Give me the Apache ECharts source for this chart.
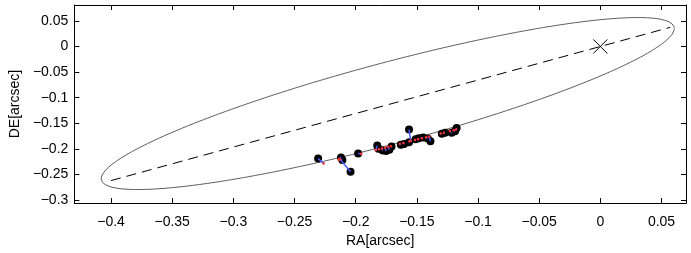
<!DOCTYPE html>
<html>
<head>
<meta charset="utf-8">
<script src="https://cdn.jsdelivr.net/npm/echarts@6/dist/echarts.min.js"></script>
<style>
html,body{margin:0;padding:0;background:#fff;}
#chart{width:691px;height:253px;}
</style>
</head>
<body>
<div id="chart"></div>
<script>
// ---- data ----
const xTicks = [-0.4, -0.35, -0.3, -0.25, -0.2, -0.15, -0.1, -0.05, 0, 0.05];
const yTicks = [-0.3, -0.25, -0.2, -0.15, -0.1, -0.05, 0, 0.05];
const xRange = [-0.43, 0.07];
const yRange = [-0.306, 0.081];

// apparent orbit (ellipse) elements: x = cx + rx cos t, y = cy + ry cos(t - phase)
const orbitCenter = [-0.1738, -0.1115];
const orbitRadii = [0.2342, 0.1680];
const orbitPhase = 0.51;

// dashed line through the primary
const dashedLine = [[-0.4, -0.262], [0.057, 0.0373]];
// primary star
const primary = [[0, 0]];

// observed positions
const obsX = [-0.2307, -0.2120, -0.2109, -0.2042, -0.1980, -0.1824, -0.1814, -0.1779, -0.1752, -0.1725,
              -0.1707, -0.1631, -0.1604, -0.1564, -0.1564, -0.1510, -0.1484, -0.1449, -0.1411, -0.1389,
              -0.1296, -0.1269, -0.1216, -0.1188, -0.1175];
const obsY = [-0.2191, -0.2167, -0.2218, -0.2448, -0.2092, -0.1937, -0.1999, -0.2030, -0.2042, -0.2017,
              -0.1955, -0.1918, -0.1905, -0.1624, -0.1873, -0.1811, -0.1792, -0.1779, -0.1798, -0.1854,
              -0.1704, -0.1686, -0.1686, -0.1656, -0.1592];
// computed (orbit) positions
const calcX = [-0.2262, -0.2140, -0.2135, -0.2128, -0.1955, -0.1835, -0.1810, -0.1785, -0.1760, -0.1735,
               -0.1712, -0.1640, -0.1610, -0.1550, -0.1560, -0.1515, -0.1490, -0.1460, -0.1425, -0.1400,
               -0.1305, -0.1280, -0.1230, -0.1200, -0.1180];
const calcY = [-0.2285, -0.2210, -0.2207, -0.2203, -0.2096, -0.2022, -0.2007, -0.1992, -0.1977, -0.1961,
               -0.1947, -0.1903, -0.1885, -0.1848, -0.1854, -0.1827, -0.1812, -0.1793, -0.1772, -0.1757,
               -0.1699, -0.1684, -0.1653, -0.1635, -0.1623];

// ---- build ----
const orbit = [];
for (let i = 0; i <= 720; i++) {
  const t = i / 720 * 2 * Math.PI;
  orbit.push([orbitCenter[0] + orbitRadii[0] * Math.cos(t),
              orbitCenter[1] + orbitRadii[1] * Math.cos(t - orbitPhase)]);
}
const obs = obsX.map((x, i) => [x, obsY[i]]);
const calc = calcX.map((x, i) => [x, calcY[i]]);
const resid = obsX.map((x, i) => ({coords: [[x, obsY[i]], [calcX[i], calcY[i]]]}));

function fmt(v) {
  const r = Math.round(v * 1000) / 1000;
  if (r === 0) return '0';
  return (r < 0 ? '\u2212' : '') + String(Math.abs(r));
}
const font = {fontFamily: 'Liberation Sans, Arial, Helvetica, sans-serif', fontSize: 14, color: '#000'};
const lineStyle = {color: '#000', width: 1};

const chart = echarts.init(document.getElementById('chart'), null, {renderer: 'canvas'});
chart.setOption({
  animation: false,
  backgroundColor: '#fff',
  grid: {left: 66, right: 5, top: 5, bottom: 42, containLabel: false},
  xAxis: [{
    type: 'value', min: xRange[0], max: xRange[1], position: 'bottom',
    name: 'RA[arcsec]', nameLocation: 'middle', nameGap: 30,
    nameTextStyle: font,
    axisLine: {show: true, onZero: false, lineStyle},
    axisTick: {show: true, inside: true, length: 5, lineStyle, customValues: xTicks},
    axisLabel: Object.assign({margin: 12, formatter: fmt, customValues: xTicks}, font),
    splitLine: {show: false}
  }, {
    type: 'value', min: xRange[0], max: xRange[1], position: 'top',
    axisLine: {show: true, onZero: false, lineStyle},
    axisTick: {show: true, inside: true, length: 5, lineStyle, customValues: xTicks},
    axisLabel: {show: false},
    splitLine: {show: false}
  }],
  yAxis: [{
    type: 'value', min: yRange[0], max: yRange[1], position: 'left',
    name: 'DE[arcsec]', nameLocation: 'middle', nameGap: 48, nameRotate: 90,
    nameTextStyle: font,
    axisLine: {show: true, onZero: false, lineStyle},
    axisTick: {show: true, inside: true, length: 5, lineStyle, customValues: yTicks},
    axisLabel: Object.assign({margin: 6, formatter: fmt, customValues: yTicks}, font),
    splitLine: {show: false}
  }, {
    type: 'value', min: yRange[0], max: yRange[1], position: 'right',
    axisLine: {show: true, onZero: false, lineStyle},
    axisTick: {show: true, inside: true, length: 5, lineStyle, customValues: yTicks},
    axisLabel: {show: false},
    splitLine: {show: false}
  }],
  series: [
    {type: 'line', data: orbit, showSymbol: false, symbol: 'none', lineStyle: {color: '#333', width: 0.8}, z: 1, silent: true},
    {type: 'line', data: dashedLine, showSymbol: false, symbol: 'none', lineStyle: {color: '#000', width: 1, type: [10, 6]}, z: 1},
    {type: 'scatter', data: primary, symbol: 'path://M0,0L10,10M10,0L0,10', symbolSize: 14,
     itemStyle: {color: 'none', borderColor: '#000', borderWidth: 1, opacity: 1}, z: 2},
    {type: 'scatter', data: obs, symbol: 'circle', symbolSize: 8, itemStyle: {color: '#000', opacity: 1}, z: 3},
    {type: 'lines', coordinateSystem: 'cartesian2d', data: resid,
     lineStyle: {color: '#4a5cff', width: 1.5, opacity: 1}, z: 4},
    {type: 'scatter', data: calc, symbol: 'circle', symbolSize: 2.5, itemStyle: {color: '#ff3030', opacity: 1}, z: 5}
  ]
});
</script>
</body>
</html>
